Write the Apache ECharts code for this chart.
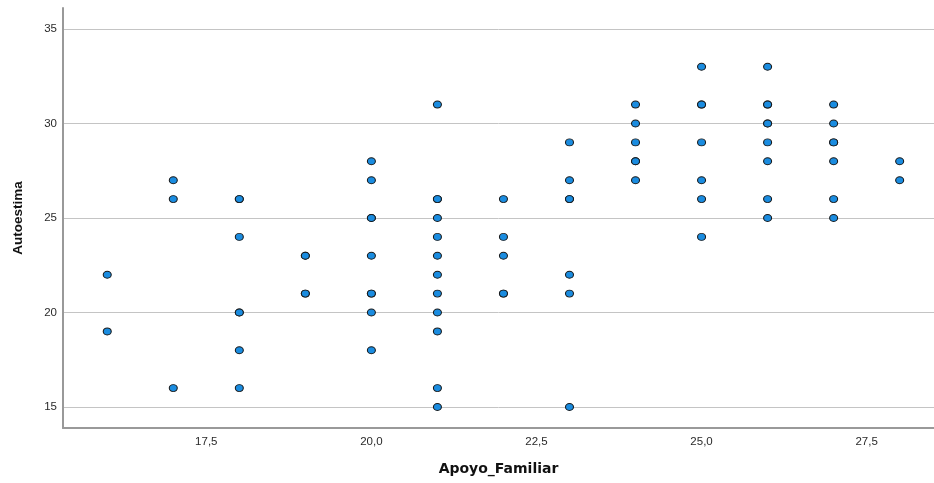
<!DOCTYPE html>
<html><head><meta charset="utf-8">
<script src="https://cdn.jsdelivr.net/npm/echarts@6/dist/echarts.min.js"></script>
<style>html,body{margin:0;padding:0;background:#fff}#c{width:934px;height:483px}</style>
</head><body><div id="c"></div>
<script>
// Apoyo_Familiar (x) values and Autoestima (y) values, one pair per point
const apoyoFamiliar = [
  16,16,
  17,17,17,
  18,18,18,18,18,18,18,
  19,19,19,19,
  20,20,20,20,20,20,20,20,20,
  21,21,21,21,21,21,21,21,21,21,21,21,
  22,22,22,22,22,
  23,23,23,23,23,23,23,
  24,24,24,24,24,24,
  25,25,25,25,25,25,25,
  26,26,26,26,26,26,26,26,26,
  27,27,27,27,27,27,27,
  28,28
];
const autoestima = [
  22,19,
  27,26,16,
  26,26,24,20,20,18,16,
  23,23,21,21,
  28,27,25,25,23,21,21,20,18,
  31,26,26,25,24,23,22,21,20,19,16,15,
  26,24,23,21,21,
  29,27,26,26,22,21,15,
  31,30,29,28,28,27,
  33,31,31,29,27,26,24,
  33,31,31,30,30,29,28,26,25,
  31,30,29,29,28,26,25,
  28,27
];
const xTicks = [17.5, 20, 22.5, 25, 27.5];
const yTicks = [15, 20, 25, 30, 35];
const xTitle = 'Apoyo_Familiar';
const yTitle = 'Autoestima';

const points = apoyoFamiliar.map((x, i) => [x, autoestima[i]]);
const chart = echarts.init(document.getElementById('c'), null, {renderer: 'canvas'});
chart.setOption({
  animation: false,
  grid: {left: 63, right: 0, top: 8, bottom: 55, containLabel: false, outerBoundsMode: 'none'},
  xAxis: {
    type: 'value', min: 15.33, max: 28.52,
    name: xTitle, nameLocation: 'middle', nameGap: 34,
    nameTextStyle: {fontFamily: 'DejaVu Sans', fontWeight: 'bold', fontSize: 14, color: '#111'},
    axisLine: {show: true, lineStyle: {color: '#999', width: 2}},
    axisTick: {show: false, customValues: xTicks},
    axisLabel: {customValues: xTicks, margin: 8, fontFamily: 'Liberation Sans', fontSize: 11.5, color: '#2a2a2a',
      formatter: v => v.toFixed(1).replace('.', ',')},
    splitLine: {show: false}
  },
  yAxis: {
    type: 'value', min: 13.89, max: 36.11,
    name: yTitle, nameLocation: 'middle', nameGap: 38, nameRotate: 90,
    nameTextStyle: {fontFamily: 'Liberation Sans', fontWeight: 'bold', fontSize: 13.5, color: '#111'},
    axisLine: {show: true, lineStyle: {color: '#999', width: 2}},
    axisTick: {show: false, customValues: yTicks},
    axisLabel: {customValues: yTicks, margin: 6, fontFamily: 'Liberation Sans', fontSize: 11.5, color: '#2a2a2a'},
    splitLine: {show: true, lineStyle: {color: '#c4c4c4', width: 1}}
  },
  series: [{
    type: 'scatter',
    data: points,
    symbol: 'circle',
    symbolSize: [8, 7],
    itemStyle: {color: '#1a8ce0', borderColor: '#1a1a1a', borderWidth: 1, opacity: 1}
  }]
});
</script>
</body></html>
